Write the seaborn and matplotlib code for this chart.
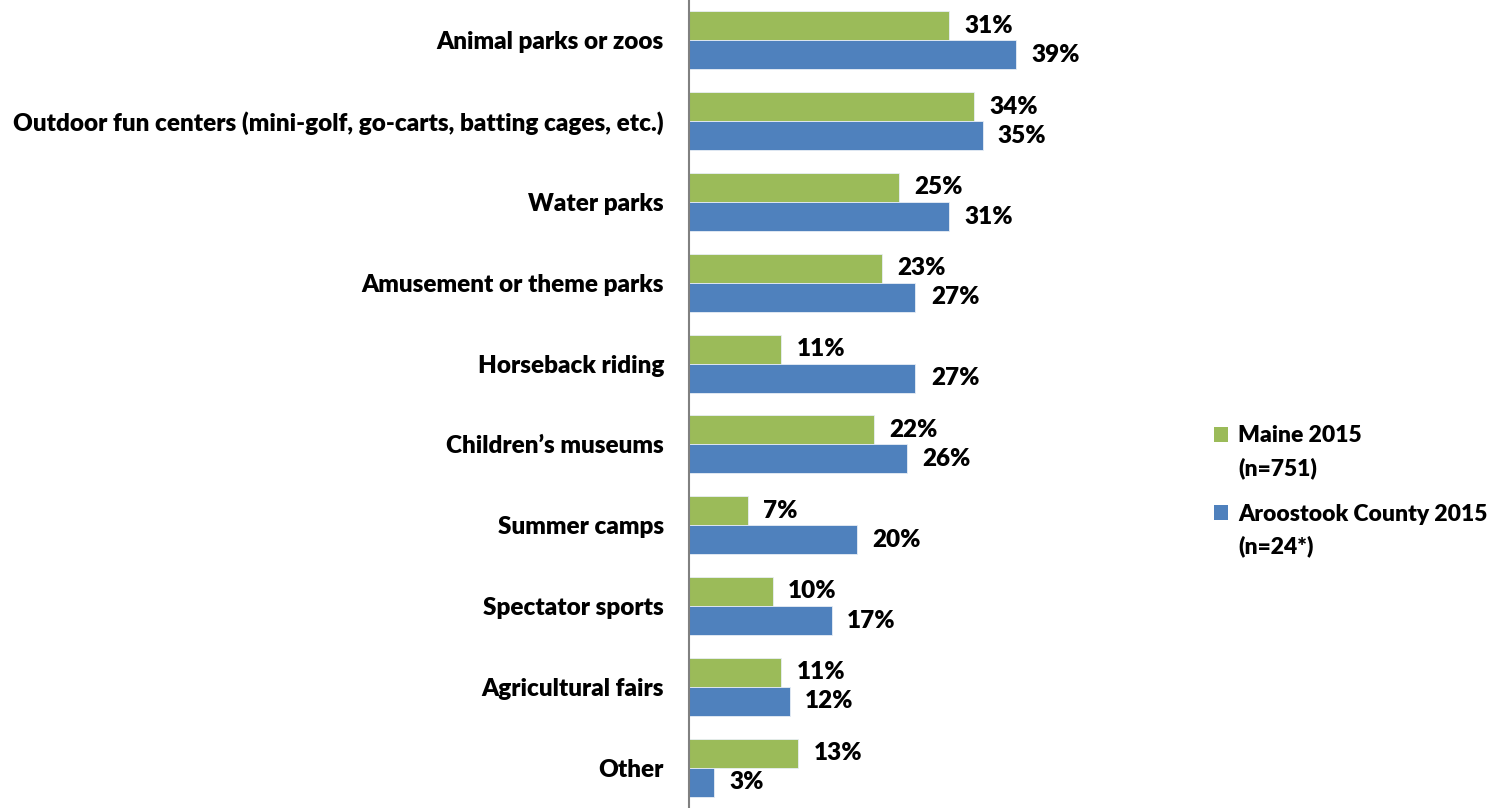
import pandas as pd
import numpy as np
import seaborn as sns
import matplotlib.pyplot as plt
from matplotlib.patches import Patch

# values
categories = ["Animal parks or zoos",
              "Outdoor fun centers (mini-golf, go-carts, batting cages, etc.)",
              "Water parks",
              "Amusement or theme parks",
              "Horseback riding",
              "Children\u2019s museums",
              "Summer camps",
              "Spectator sports",
              "Agricultural fairs",
              "Other"]
maine = [31, 34, 25, 23, 11, 22, 7, 10, 11, 13]
aroostook = [39, 35, 31, 27, 27, 26, 20, 17, 12, 3]
series = ["Maine 2015", "Aroostook County 2015"]
sample_sizes = ["(n=751)", "(n=24*)"]
colors = ["#9BBB59", "#4F81BD"]

df = pd.DataFrame({
    "category": categories * 2,
    "value": maine + aroostook,
    "series": [series[0]] * len(categories) + [series[1]] * len(categories),
})

sns.set_style("white")
plt.rcParams["font.family"] = ["Lato", "DejaVu Sans"]
plt.rcParams["text.color"] = "black"
plt.rcParams["ytick.labelcolor"] = "black"
fs = 17.5
wt = "heavy"

fig = plt.figure(figsize=(14.92, 8.08), dpi=100)
ax = fig.add_axes([0.4618, 0.0, 0.253, 1.0])

sns.barplot(data=df, y="category", x="value", hue="series", order=categories,
            hue_order=series, palette=colors, saturation=1, width=0.72, orient="h",
            edgecolor="#e8eef5", linewidth=0.6, ax=ax, legend=False)

ax.set_xlim(0, 45)
ax.set_ylim(len(categories) - 0.5, -0.5)
ax.set_xlabel("")
ax.set_ylabel("")
ax.set_xticks([])
for sp in ["top", "right", "bottom"]:
    ax.spines[sp].set_visible(False)
ax.spines["left"].set_color("#808080")
ax.spines["left"].set_linewidth(1.5)
ax.tick_params(axis="y", length=0, pad=18, labelsize=fs, labelcolor="black")
for lbl in ax.get_yticklabels():
    lbl.set_fontweight(wt)

for cont in ax.containers:
    ax.bar_label(cont, labels=[f"{int(v)}%" for v in cont.datavalues],
                 padding=11, fontsize=fs, fontweight=wt, color="black", clip_on=False)

# legend: first line next to the square, sample size on the line below
handles = [Patch(facecolor=c, edgecolor="none") for c in colors]
leg = fig.legend(handles, series, loc="upper left", bbox_to_anchor=(0.8, 0.499),
                 frameon=False, fontsize=16.5, handlelength=0.6, handleheight=0.6,
                 handletextpad=0.45, labelspacing=2.5)
for t in leg.get_texts():
    t.set_fontweight(wt)
    t.set_color("black")

fig.canvas.draw()
inv = fig.transFigure.inverted()
for t, n in zip(leg.get_texts(), sample_sizes):
    bb = t.get_window_extent()
    x0, y0 = inv.transform((bb.x0, bb.y0 - 32))
    x1, y1 = inv.transform((bb.x0, bb.y1 - 32))
    fig.text(x0, (y0 + y1) / 2, n, fontsize=16.5, fontweight=wt, color="black",
             va="center", ha="left")

fig.savefig("out.png", dpi=100)
